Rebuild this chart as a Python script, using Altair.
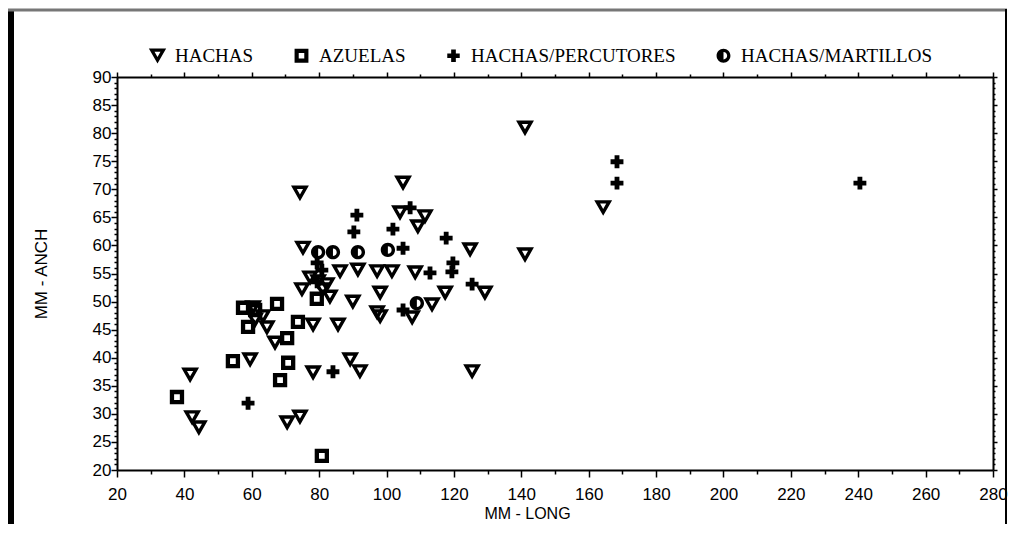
import altair as alt
import pandas as pd

# ---- data ----
hachas_x = [42.3, 44.3, 41.7, 70.5, 74.3, 59.5, 60.4, 63.3, 64.5, 66.9, 74.3, 75.2, 86.2, 91.5, 97.2,
            74.9, 81.1, 83.2, 90.0, 97.2, 78.2, 85.6, 78.2, 89.2, 92.1, 104.9, 104.0, 111.4, 109.3,
            124.8, 141.1, 101.6, 108.5, 117.4, 129.2, 98.1, 113.5, 107.6, 98.1, 125.4, 141.1, 164.3,
            79.7, 77.3, 82.3, 61.0]
hachas_y = [29.3, 27.5, 36.9, 28.4, 29.4, 39.6, 48.9, 47.3, 45.3, 42.6, 69.3, 59.5, 55.3, 55.6, 55.3,
            52.1, 52.1, 50.8, 49.9, 48.0, 45.8, 45.8, 37.3, 39.6, 37.5, 71.1, 65.8, 65.1, 63.3,
            59.2, 58.3, 55.3, 55.1, 51.5, 51.5, 51.5, 49.4, 47.1, 47.3, 37.5, 80.9, 66.7,
            53.5, 54.2, 53.0, 46.7]

azuelas_x = [37.8, 80.8, 54.4, 57.4, 61.0, 58.9, 67.5, 70.5, 73.7, 70.8, 68.4, 79.3]
azuelas_y = [33.0, 22.5, 39.4, 48.9, 48.5, 45.5, 49.6, 43.5, 46.4, 39.1, 36.0, 50.5]

percutores_x = [58.9, 84.1, 91.2, 90.3, 80.8, 79.4, 101.9, 117.7, 104.9, 119.7, 119.4, 112.9,
                125.4, 104.9, 168.4, 168.4, 240.5, 107.0, 79.4]
percutores_y = [31.9, 37.5, 65.4, 62.4, 55.6, 53.5, 62.9, 61.3, 59.5, 56.9, 55.3, 55.1,
                53.1, 48.5, 74.9, 71.1, 71.1, 66.7, 56.9]

martillos_x = [79.7, 84.1, 91.5, 100.4, 109.0]
martillos_y = [58.8, 58.8, 58.8, 59.2, 49.7]

cats = ["HACHAS", "AZUELAS", "HACHAS/PERCUTORES", "HACHAS/MARTILLOS"]

x_ticks = list(range(20, 281, 10))
y_ticks = list(range(20, 91, 1))

rows = []
for c, xs, ys in [(cats[0], hachas_x, hachas_y), (cats[1], azuelas_x, azuelas_y),
                  (cats[2], percutores_x, percutores_y), (cats[3], martillos_x, martillos_y)]:
    for a, b in zip(xs, ys):
        rows.append({"long": a, "anch": b, "tipo": c})
df = pd.DataFrame(rows)

# ---- symbol shapes (thick outlines drawn as filled paths) ----
tri = "M-1,-0.85L1,-0.85L0,0.9Z M-0.345,-0.47L0,0.134L0.345,-0.47Z"
sq = "M-0.8,-0.8L0.8,-0.8L0.8,0.8L-0.8,0.8Z M-0.32,-0.32L-0.32,0.32L0.32,0.32L0.32,-0.32Z"
plus = ("M-0.72,-0.27L-0.27,-0.27L-0.27,-0.72L0.27,-0.72L0.27,-0.27L0.72,-0.27L0.72,0.27"
        "L0.27,0.27L0.27,0.72L-0.27,0.72L-0.27,0.27L-0.72,0.27Z")
circ = ("M0.8,0A0.8,0.8 0 1,1 -0.8,0A0.8,0.8 0 1,1 0.8,0Z "
        "M0,-0.42L0,0.42A0.42,0.42 0 0,0 0,-0.42Z")

W, H = 876, 393
PL, PT = 109, 69

xscale = alt.Scale(domain=[20, 280], nice=False, zero=False)
yscale = alt.Scale(domain=[20, 90], nice=False, zero=False)

sans = "Liberation Sans"
serif = "Liberation Serif"

x_axis = alt.Axis(orient="bottom", values=x_ticks,
                  labelExpr="datum.value % 20 === 0 ? datum.label : ''",
                  tickSize={"condition": {"test": "datum.value % 20 === 0", "value": 7}, "value": 4},
                  labelFont=sans, labelFontSize=17, labelColor="black", labelPadding=9,
                  labelOverlap=False, labelFlush=False,
                  title="MM -  LONG", titleFont=sans, titleFontSize=16, titleFontWeight="normal",
                  titleColor="black", titlePadding=3, titleX=410,
                  domainColor="black", domainWidth=2, tickColor="black", tickWidth=1.5, grid=False)
y_axis = alt.Axis(orient="left", values=y_ticks,
                  labelExpr="datum.value % 5 === 0 ? datum.label : ''",
                  tickSize={"condition": {"test": "datum.value % 5 === 0", "value": 6}, "value": 3},
                  labelFont=sans, labelFontSize=17, labelColor="black", labelPadding=0,
                  labelOverlap=False, labelFlush=False,
                  title="MM -  ANCH", titleFont=sans, titleFontSize=17, titleFontWeight="normal",
                  titleColor="black", titlePadding=42,
                  domainColor="black", domainWidth=2, tickColor="black", tickWidth=1.5, grid=False)
x_top = alt.Axis(orient="top", values=x_ticks, labels=False, title=None,
                 tickSize={"condition": {"test": "datum.value % 20 === 0", "value": 5}, "value": 3},
                 domainColor="black", domainWidth=2, tickColor="black", tickWidth=1.5, grid=False)
y_right = alt.Axis(orient="right", values=y_ticks, labels=False, title=None,
                   tickSize={"condition": {"test": "datum.value % 5 === 0", "value": 4}, "value": 2},
                   domainColor="black", domainWidth=2, tickColor="black", tickWidth=1.5, grid=False)

points = alt.Chart(df).mark_point(filled=True, color="black", opacity=1, strokeWidth=0, size=320).encode(
    x=alt.X("long:Q", scale=xscale, axis=x_axis),
    y=alt.Y("anch:Q", scale=yscale, axis=y_axis),
    shape=alt.Shape("tipo:N", scale=alt.Scale(domain=cats, range=[tri, sq, plus, circ]),
                    sort=cats,
                    legend=alt.Legend(orient="none", legendX=31, legendY=-31, direction="horizontal",
                                      columns=4, title=None, labelFont=serif, labelFontSize=19,
                                      labelColor="black", symbolSize=300, symbolFillColor="black",
                                      symbolStrokeWidth=0, symbolOpacity=1, columnPadding=38,
                                      labelOffset=8, labelLimit=400)),
)

frame = alt.Chart(df).mark_point(opacity=0).encode(
    x=alt.X("long:Q", scale=xscale, axis=x_top),
    y=alt.Y("anch:Q", scale=yscale, axis=y_right),
)

one = pd.DataFrame({"k": [0]})
left_bar = alt.Chart(one).mark_rule(color="black", strokeWidth=6).encode(
    x=alt.value(-106), y=alt.value(-68), y2=alt.value(H + 54))
top_bar = alt.Chart(one).mark_rule(color="#777777", strokeWidth=3).encode(
    x=alt.value(-109), x2=alt.value(W + 14), y=alt.value(-67))
right_bar = alt.Chart(one).mark_rule(color="black", strokeWidth=2).encode(
    x=alt.value(W + 13), y=alt.value(-68), y2=alt.value(H + 54))

chart = alt.layer(points, frame, left_bar, top_bar, right_bar).resolve_axis(
    x="independent", y="independent"
).properties(
    width=W, height=H,
    autosize=alt.AutoSizeParams(type="none"),
    padding={"left": PL, "top": PT, "right": 1000 - PL - W, "bottom": 523 - PT - H},
).configure_view(stroke="transparent").configure(background="white")

chart.save("out.html", embed_options={"renderer": "svg", "actions": False})
